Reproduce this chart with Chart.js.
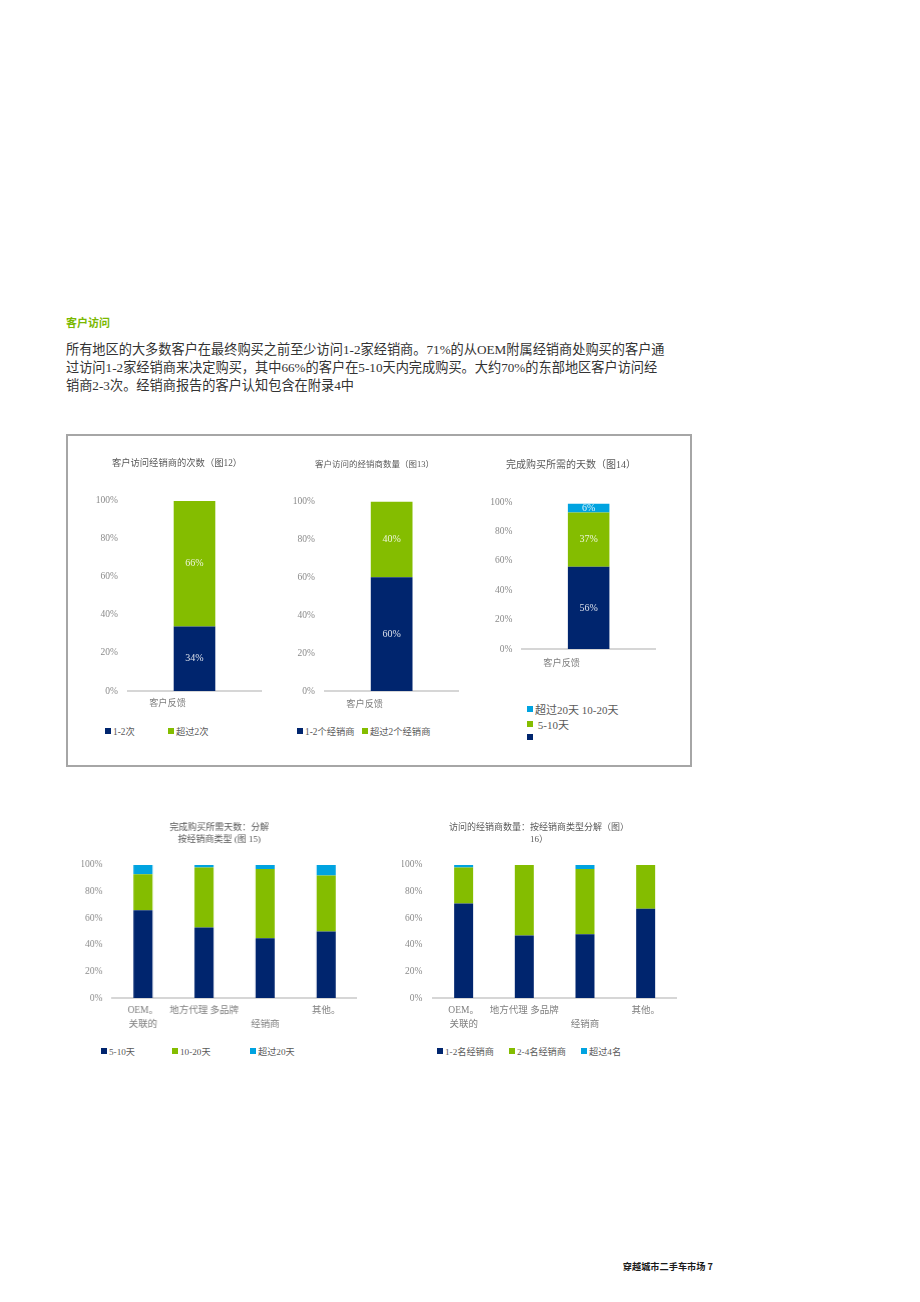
<!DOCTYPE html>
<html lang="zh">
<head>
<meta charset="utf-8">
<script src="https://cdn.jsdelivr.net/npm/chart.js@4.4.1/dist/chart.umd.min.js"></script>
<style>
  html, body { margin: 0; padding: 0; background: #fff; }
  #page { position: relative; width: 920px; height: 1302px; overflow: hidden;
          font-family: "Liberation Serif", "Noto Sans CJK SC", serif; }
  .abs { position: absolute; }
  #heading { left: 66px; top: 315px; font: bold 11px/14px "Noto Sans CJK SC", sans-serif; color: #7ab800; }
  #para { left: 66px; top: 341px; font-size: 13.2px; line-height: 18px; color: #333; white-space: nowrap; }
  #frame { left: 66px; top: 434px; width: 626px; height: 333px; border: 2px solid #a6a6a6; box-sizing: border-box; }
  #footer { right: 207px; top: 1260px; font: bold 9.2px/12px "Noto Sans CJK SC", sans-serif; color: #1a1a1a; }
  .lg { position: absolute; display: flex; align-items: center; white-space: pre; color: #595959; }
  .lg i { display: inline-block; width: 6px; height: 6px; margin-right: 2px; }
</style>
</head>
<body>
<div id="page">
  <div id="heading" class="abs">客户访问</div>
  <div id="para" class="abs">所有地区的大多数客户在最终购买之前至少访问1-2家经销商。71%的从OEM附属经销商处购买的客户通<br>过访问1-2家经销商来决定购买，其中66%的客户在5-10天内完成购买。大约70%的东部地区客户访问经<br>销商2-3次。经销商报告的客户认知包含在附录4中</div>
  <div id="frame" class="abs"></div>
  <div id="footer" class="abs">穿越城市二手车市场 7</div>
</div>
<script>
// colours
const NAVY = '#00256e';
const GREEN = '#84bd00';
const CYAN = '#00a3e0';

// 图12
const fig12Categories = ['客户反馈'];
const fig12Series = ['1-2次', '超过2次'];
const fig12Values = [[34], [66]];

// 图13
const fig13Categories = ['客户反馈'];
const fig13Series = ['1-2个经销商', '超过2个经销商'];
const fig13Values = [[60], [40]];

// 图14
const fig14Categories = ['客户反馈'];
const fig14Series = ['5-10天', '10-20天', '超过20天'];
const fig14Values = [[56], [37], [6]];
const fig14LegendRows = ['超过20天 10-20天', ' 5-10天', ''];

// 图15 / 图16
const dealerTypes = ['OEM。关联的', '地方代理', '多品牌经销商', '其他。'];
const dealerTickLabels = [['OEM。', '关联的'], ['地方代理 多品牌'], ['', '经销商'], ['其他。']];
const fig15Series = ['5-10天', '10-20天', '超过20天'];
const fig15Values = [[66, 53, 45, 50], [27, 45, 52, 42], [7, 2, 3, 8]];
const fig16Series = ['1-2名经销商', '2-4名经销商', '超过4名'];
const fig16Values = [[71, 47, 48, 67], [27, 53, 49, 33], [2, 0, 3, 0]];

const yTicks = [0, 20, 40, 60, 80, 100];

const SERIF = '"Liberation Serif", "Noto Sans CJK SC", serif';

// writes the value inside each stacked segment
const segmentLabels = {
  id: 'segmentLabels',
  afterDatasetsDraw(chart, args, opts) {
    if (!opts.show) return;
    const ctx = chart.ctx;
    ctx.save();
    ctx.font = '10px ' + SERIF;
    ctx.fillStyle = 'rgba(255,255,255,0.85)';
    ctx.textAlign = 'center';
    ctx.textBaseline = 'middle';
    chart.data.datasets.forEach((ds, i) => {
      chart.getDatasetMeta(i).data.forEach((bar, j) => {
        const v = ds.data[j];
        if (!v) return;
        const p = bar.getProps(['x', 'y', 'base'], true);
        ctx.fillText(v + '%', p.x, (p.y + p.base) / 2);
      });
    });
    ctx.restore();
  }
};

function addLegend(items, x, y, size) {
  const page = document.getElementById('page');
  items.forEach((it, i) => {
    const d = document.createElement('div');
    d.className = 'lg';
    d.style.left = x[i] + 'px';
    d.style.top = (y[i] - 8) + 'px';
    d.style.height = '16px';
    d.style.fontSize = size + 'px';
    d.innerHTML = '<i style="background:' + it.color + '"></i>' + it.text;
    page.appendChild(d);
  });
}

function makeChart(box, labels, series, values, colors, t) {
  const page = document.getElementById('page');
  const wrap = document.createElement('div');
  wrap.className = 'abs';
  wrap.style.left = box.left + 'px';
  wrap.style.top = box.top + 'px';
  wrap.style.width = box.width + 'px';
  wrap.style.height = box.height + 'px';
  const cv = document.createElement('canvas');
  wrap.appendChild(cv);
  page.appendChild(wrap);

  return new Chart(cv.getContext('2d'), {
    type: 'bar',
    data: {
      labels: labels,
      datasets: series.map((s, i) => ({
        label: s,
        data: values[i],
        backgroundColor: colors[i],
        borderWidth: 0,
        barPercentage: 0.313,
        categoryPercentage: 1
      }))
    },
    options: {
      responsive: true,
      maintainAspectRatio: false,
      animation: false,
      layout: { padding: { left: t.pl, right: 4, top: 0, bottom: 0 } },
      plugins: {
        legend: { display: false },
        tooltip: { enabled: false },
        title: {
          display: true,
          text: t.title,
          color: '#595959',
          font: { family: SERIF, size: t.titleSize, weight: 'normal', lineHeight: t.titleLh },
          padding: { top: t.pt, bottom: t.pb }
        },
        segmentLabels: { show: t.values }
      },
      scales: {
        x: {
          stacked: true,
          grid: { display: false, drawTicks: false },
          border: { color: '#d6d6d6', width: 2 },
          ticks: {
            color: '#7f7f7f',
            padding: t.xpad,
            labelOffset: t.labelOffset || 0,
            maxRotation: 0,
            autoSkip: false,
            font: { family: SERIF, size: t.xSize, lineHeight: t.xLh },
            callback: (v, i) => t.tickLabels ? t.tickLabels[i] : labels[i]
          },
          afterFit: s => { s.height = t.xh; }
        },
        y: {
          stacked: true,
          min: 0,
          max: 100,
          afterBuildTicks: s => { s.ticks = yTicks.map(v => ({ value: v })); },
          grid: { display: false, drawTicks: false },
          border: { display: false },
          ticks: {
            color: '#8a8a8a',
            padding: t.ypad,
            font: { family: SERIF, size: 9.5 },
            callback: v => v + '%'
          },
          afterFit: s => { s.width = t.yw; }
        }
      }
    },
    plugins: [segmentLabels]
  });
}

// 图12
makeChart({ left: 80, top: 450, width: 185, height: 263 }, fig12Categories, fig12Series, fig12Values, [NAVY, GREEN], {
  title: '客户访问经销商的次数（图12）', titleSize: 9.3, titleLh: 1.2, pt: 8.4, pb: 31.4,
  pl: 13, yw: 35, ypad: 10, xh: 22, xpad: 7, xSize: 9.2, xLh: 1.2, labelOffset: -27, values: true
});
addLegend(fig12Series.map((s, i) => ({ text: s, color: [NAVY, GREEN][i] })), [105, 168], [731, 731], 9.3);

// 图13
makeChart({ left: 280, top: 450, width: 182.3, height: 263 }, fig13Categories, fig13Series, fig13Values, [NAVY, GREEN], {
  title: '客户访问的经销商数量（图13）', titleSize: 8.5, titleLh: 1.2, pt: 9.2, pb: 32.1,
  pl: 10.7, yw: 34.3, ypad: 10, xh: 22, xpad: 7.8, xSize: 9.2, xLh: 1.2, labelOffset: -27, values: true
});
addLegend(fig13Series.map((s, i) => ({ text: s, color: [NAVY, GREEN][i] })), [297, 362], [731, 731], 9.3);

// 图14
makeChart({ left: 480, top: 450, width: 179, height: 221 }, fig14Categories, fig14Series, fig14Values, [NAVY, GREEN, CYAN], {
  title: '完成购买所需的天数（图14）', titleSize: 10, titleLh: 1.2, pt: 9, pb: 31.3,
  pl: 7, yw: 35.3, ypad: 10, xh: 22, xpad: 9.1, xSize: 9.2, xLh: 1.2, labelOffset: -27, values: true
});
addLegend(fig14LegendRows.map((s, i) => ({ text: s, color: [CYAN, GREEN, NAVY][i] })), [527, 527, 527], [709, 724, 737], 11);

// 图15
makeChart({ left: 70, top: 810, width: 289.7, height: 228 }, dealerTypes, fig15Series, fig15Values, [NAVY, GREEN, CYAN], {
  title: ['完成购买所需天数：分解', '按经销商类型 (图 15)'], titleSize: 9, titleLh: 1.37, pt: 11.5, pb: 18.8,
  pl: 11.7, yw: 30.6, ypad: 10, xh: 40, xpad: 5.7, xSize: 9.5, xLh: 1.47, tickLabels: dealerTickLabels, values: false
});
addLegend(fig15Series.map((s, i) => ({ text: s, color: [NAVY, GREEN, CYAN][i] })), [101, 172, 250], [1051, 1051, 1051], 9.2);

// 图16
makeChart({ left: 390, top: 810, width: 290, height: 228 }, dealerTypes, fig16Series, fig16Values, [NAVY, GREEN, CYAN], {
  title: ['访问的经销商数量：按经销商类型分解（图）', '16）'], titleSize: 9, titleLh: 1.37, pt: 11.5, pb: 18.8,
  pl: 12, yw: 31.3, ypad: 11, xh: 40, xpad: 5.7, xSize: 9.5, xLh: 1.47, tickLabels: dealerTickLabels, values: false
});
addLegend(fig16Series.map((s, i) => ({ text: s, color: [NAVY, GREEN, CYAN][i] })), [437, 509, 581], [1051, 1051, 1051], 9.2);
</script>
</body>
</html>
